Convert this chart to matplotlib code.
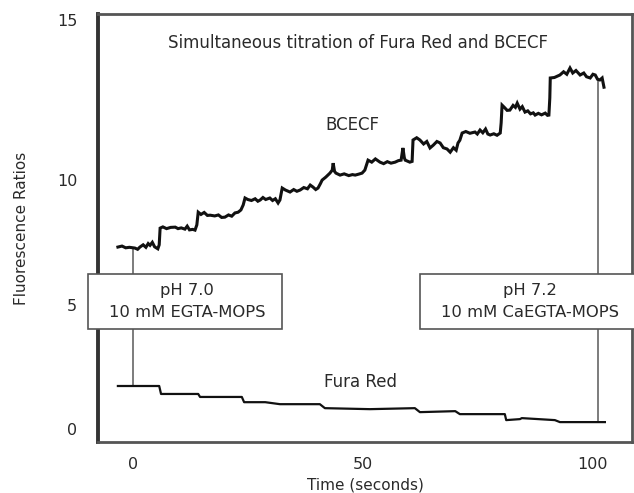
import matplotlib
matplotlib.use('Agg')
import matplotlib.pyplot as plt
from matplotlib.patches import Rectangle

# BCECF ratio trace (time in s, ratio)
bcecf_t = [-3.3, -2.4, -1.6, -0.8, 0.4, 1.0, 1.5, 2.2, 2.8, 3.3, 3.7, 4.2, 4.7, 5.4, 5.7,
           5.9, 6.5, 7.3, 8.2, 9.2, 9.8, 10.5, 11.3, 11.8, 12.3, 13.0, 13.5, 13.9,
           14.2, 14.8, 15.5, 16.2, 16.8, 17.8, 18.6, 19.3, 20.0, 20.8, 21.5, 22.2, 22.9, 23.5,
           24.0, 24.4, 25.0, 25.8, 26.6, 27.2, 27.7, 28.3, 28.9, 29.8, 30.4, 31.0, 31.6, 32.0,
           32.5, 33.2, 34.2, 35.0, 35.7, 36.4, 37.2, 38.0, 38.6, 39.2, 39.8, 40.3, 40.8,
           41.2, 42.0, 42.9, 43.4, 43.6, 43.9, 44.2, 45.1, 46.0, 47.0, 47.8, 48.4, 49.2, 49.9, 50.5,
           51.2, 52.0, 52.8, 53.8, 54.6, 55.4, 56.2, 57.1, 57.8, 58.4, 58.8, 59.1, 59.3, 60.3, 60.8,
           61.0, 61.8, 62.5, 63.3, 64.0, 64.7, 65.4, 66.2, 66.9, 67.6, 68.4, 69.1, 69.8, 70.4, 70.8,
           71.2, 71.7, 72.5, 73.4, 74.5, 75.0, 75.6, 76.2, 76.8, 77.3, 77.8, 78.6, 79.3, 80.0, 80.2,
           80.4, 81.0, 81.5, 82.1, 82.8, 83.3, 83.7, 84.3, 84.8, 85.4, 86.0, 86.6, 87.2, 87.6,
           88.3, 89.0, 89.8, 90.3, 90.6, 90.8,
           90.9, 91.8, 93.0, 93.8, 94.5, 95.2, 95.8, 96.5, 97.4, 98.2, 98.8, 99.6, 100.2,
           100.7, 101.2, 101.7, 102.2, 102.6]
bcecf_v = [7.31, 7.35, 7.28, 7.30, 7.27, 7.22, 7.31, 7.40, 7.30, 7.45, 7.38, 7.50, 7.32, 7.24, 7.40,
           8.07, 8.12, 8.05, 8.10, 8.11, 8.05, 8.08, 8.03, 8.15, 8.00, 8.02, 7.99, 8.20,
           8.71, 8.62, 8.70, 8.58, 8.59, 8.56, 8.60, 8.50, 8.51, 8.60, 8.55, 8.68, 8.71, 8.80,
           9.00, 9.28, 9.22, 9.18, 9.25, 9.15, 9.20, 9.30, 9.22, 9.28, 9.18, 9.25, 9.08, 9.20,
           9.68, 9.60, 9.52, 9.62, 9.55, 9.60, 9.70, 9.65, 9.80, 9.72, 9.62, 9.68, 9.85,
           10.00, 10.12, 10.28, 10.40, 10.68, 10.35, 10.28, 10.20, 10.25, 10.18, 10.22, 10.20, 10.24, 10.28, 10.40,
           10.80, 10.72, 10.85, 10.72, 10.66, 10.74, 10.68, 10.72, 10.78, 10.80, 11.29, 10.90, 10.80, 10.72, 10.75,
           11.61, 11.70, 11.61, 11.45, 11.55, 11.29, 11.40, 11.55, 11.49, 11.30, 11.25, 11.12, 11.30, 11.20, 11.49,
           11.60, 11.89, 11.95, 11.88, 11.93, 11.85, 12.01, 11.90, 12.05, 11.85, 11.81, 11.86, 11.80, 11.89, 12.30,
           13.01, 12.90, 12.80, 12.81, 13.00, 12.92, 13.09, 12.85, 12.95, 12.73, 12.78, 12.66, 12.70, 12.61,
           12.68, 12.62, 12.69, 12.60, 12.61, 13.30,
           14.10, 14.12, 14.22, 14.35, 14.25, 14.50, 14.30, 14.40, 14.22, 14.30, 14.15, 14.10, 14.25,
           14.22, 14.05, 14.02, 14.10, 13.73]

# Fura Red ratio trace (stepwise)
fura_t = [-3.3, 5.7, 6.1, 14.2, 14.6, 23.7, 24.2, 28.8, 32.0, 40.7, 41.8, 51.6, 61.4, 62.5,
          70.2, 71.2, 81.0, 81.3, 84.3, 84.7, 91.9, 93.0, 102.8]
fura_v = [1.73, 1.73, 1.41, 1.41, 1.29, 1.29, 1.08, 1.08, 1.00, 1.00, 0.84, 0.80, 0.84, 0.68,
          0.72, 0.60, 0.60, 0.36, 0.40, 0.44, 0.36, 0.28, 0.28]

# buffer additions
add_t = [0.0, 101.3]
add_labels = ['pH 7.0\n10 mM EGTA-MOPS', 'pH 7.2\n10 mM CaEGTA-MOPS']

xtick_vals = [0, 50, 100]
ytick_labels = ['0', '5', '10', '15']

fig = plt.figure(figsize=(6.34, 4.93), dpi=100)
ax = fig.add_axes([0.1546, 0.1034, 0.8422, 0.8682])
ax.set_xlim(-7.63, 108.7)
ax.set_ylim(-0.52, 16.67)

ink = '#111111'
txt = '#2a2a2a'
ax.plot(bcecf_t, bcecf_v, color=ink, lw=2.2, solid_joinstyle='miter', zorder=3)
ax.plot(fura_t, fura_v, color=ink, lw=1.6, zorder=3)

# vertical markers between the traces
ax.plot([add_t[0], add_t[0]], [7.27, 1.73], color='#666666', lw=1.2, zorder=2)
ax.plot([add_t[1], add_t[1]], [14.05, 0.28], color='#666666', lw=1.2, zorder=2)

# annotation boxes (white fill hides the lines / spine behind)
boxes = [(-9.8, 4.02, 42.3, 2.2), (62.5, 4.02, 47.0, 2.2)]
for (bx, by, bw, bh), lab in zip(boxes, add_labels):
    ax.add_patch(Rectangle((bx, by), bw, bh, facecolor='white', edgecolor='#555555',
                           lw=1.2, zorder=5, clip_on=False))
    ax.text(bx + bw / 2 + 0.5, by + bh / 2, lab, ha='center', va='center', fontsize=11.8,
            color=txt, linespacing=1.55, zorder=6, clip_on=False)

ax.text(49, 15.5, 'Simultaneous titration of Fura Red and BCECF', ha='center', va='center',
        fontsize=12, color=txt)
ax.text(47.7, 12.2, 'BCECF', ha='center', va='center', fontsize=12, color=txt)
ax.text(49.5, 1.9, 'Fura Red', ha='center', va='center', fontsize=12, color=txt)

ax.set_xticks(xtick_vals)
ax.set_yticks([0, 5, 10, 16.43])
ax.set_yticklabels(ytick_labels)
ax.tick_params(length=0, labelsize=11.5, labelcolor=txt)
ax.tick_params(axis='y', pad=15)
ax.tick_params(axis='x', pad=11)

ax.set_xlabel('Time (seconds)', fontsize=11, color=txt, labelpad=4)
ax.set_ylabel('Fluorescence Ratios', fontsize=11, color=txt, labelpad=20)

for side in ['top', 'right', 'bottom']:
    ax.spines[side].set_linewidth(2.0)
    ax.spines[side].set_color('#555555')
ax.spines['left'].set_linewidth(2.8)
ax.spines['left'].set_color('#333333')

plt.savefig('out.png', dpi=100)
